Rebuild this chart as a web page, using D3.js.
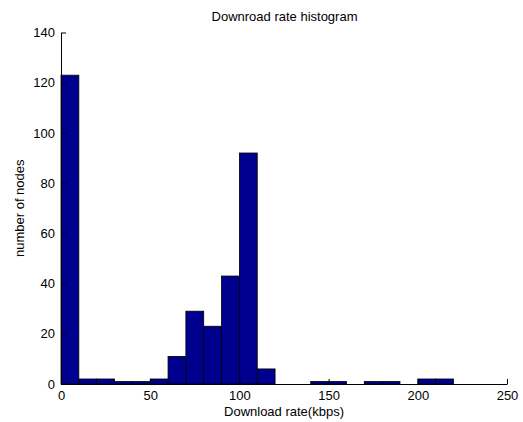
<!DOCTYPE html>
<html>
<head>
<meta charset="utf-8">
<script src="https://cdn.jsdelivr.net/npm/d3@7"></script>
<style>
  html, body { margin: 0; padding: 0; background: #fff; }
  svg { display: block; }
  text { font-family: "Liberation Sans", Arial, sans-serif; fill: #000; }
</style>
</head>
<body>
<svg id="chart" width="523" height="422"></svg>
<script>
// Data
const binStarts = [0, 10, 20, 30, 40, 50, 60, 70, 80, 90, 100, 110, 120, 130, 140, 150, 160, 170, 180, 190, 200, 210];
const binWidth = 10;
const counts    = [123, 2, 2, 1, 1, 2, 11, 29, 23, 43, 92, 6, 0, 0, 1, 1, 0, 1, 1, 0, 2, 2];
const xTicks = [0, 50, 100, 150, 200, 250];
const yTicks = [0, 20, 40, 60, 80, 100, 120, 140];
const titleText = "Downroad rate histogram";
const xLabelText = "Download rate(kbps)";
const yLabelText = "number of nodes";

const svg = d3.select("#chart");
const plotLeft = 61, plotRight = 507, plotTop = 32.5, plotBottom = 384;

const x = d3.scaleLinear().domain([0, 250]).range([plotLeft, plotRight]);
const y = d3.scaleLinear().domain([0, 140]).range([plotBottom, plotTop]);

// Bars
svg.append("g")
  .selectAll("rect")
  .data(binStarts.map((s, i) => ({ s, c: counts[i] })).filter(d => d.c > 0))
  .join("rect")
  .attr("x", d => x(d.s))
  .attr("y", d => y(d.c))
  .attr("width", d => x(d.s + binWidth) - x(d.s))
  .attr("height", d => y(0) - y(d.c))
  .attr("fill", "rgb(0,0,143)")
  .attr("stroke", "#000")
  .attr("stroke-width", 0.8);

// Axes (ticks pointing inward)
const xAxis = d3.axisBottom(x).tickValues(xTicks).tickSizeInner(-5).tickSizeOuter(0).tickPadding(7);
const yAxis = d3.axisLeft(y).tickValues(yTicks).tickSizeInner(-5).tickSizeOuter(0).tickPadding(6);

const gx = svg.append("g").attr("transform", `translate(0,${plotBottom})`).call(xAxis);
const gy = svg.append("g").attr("transform", `translate(${plotLeft},0)`).call(yAxis);

[gx, gy].forEach(g => {
  g.select(".domain").attr("stroke", "#000").attr("stroke-width", 1);
  g.selectAll(".tick line").attr("stroke", "#000");
  g.selectAll(".tick text").attr("font-size", 13).attr("font-family", '"Liberation Sans", Arial, sans-serif').attr("fill", "#000");
});

// Title
svg.append("text")
  .attr("x", (plotLeft + plotRight) / 2 + 0.5)
  .attr("y", 21)
  .attr("text-anchor", "middle")
  .attr("font-size", 13)
  .text(titleText);

// X label
svg.append("text")
  .attr("x", (plotLeft + plotRight) / 2)
  .attr("y", 416)
  .attr("text-anchor", "middle")
  .attr("font-size", 13)
  .text(xLabelText);

// Y label
svg.append("text")
  .attr("transform", `translate(24,${(plotTop + plotBottom) / 2}) rotate(-90)`)
  .attr("text-anchor", "middle")
  .attr("font-size", 13)
  .text(yLabelText);
</script>
</body>
</html>
